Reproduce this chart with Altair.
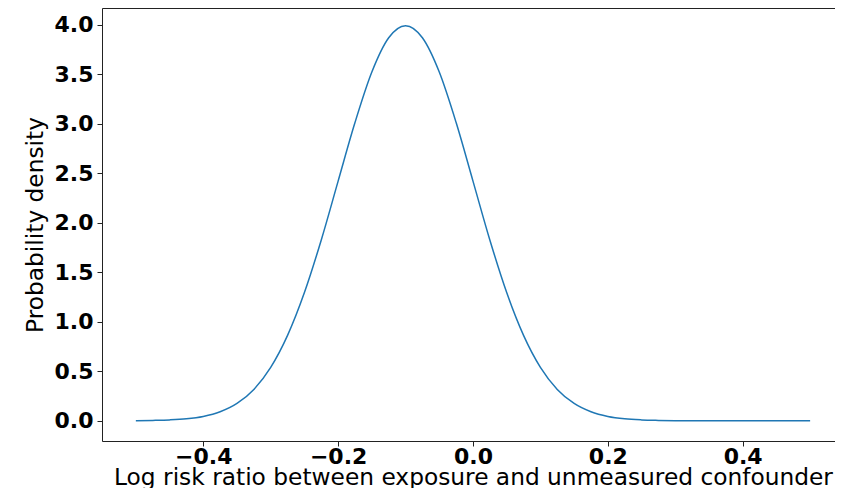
import altair as alt
import pandas as pd

# values
log_rr = [-0.500, -0.475, -0.450, -0.425, -0.400, -0.375, -0.350, -0.325, -0.300,
          -0.275, -0.250, -0.225, -0.200, -0.175, -0.150, -0.125, -0.100, -0.075,
          -0.050, -0.025, 0.000, 0.025, 0.050, 0.075, 0.100, 0.125, 0.150, 0.175,
          0.200, 0.225, 0.250, 0.275, 0.300, 0.325, 0.350, 0.375, 0.400, 0.425,
          0.450, 0.475, 0.500]
density = [0.001, 0.004, 0.009, 0.020, 0.044, 0.091, 0.175, 0.317, 0.540,
           0.863, 1.295, 1.826, 2.420, 3.011, 3.521, 3.867, 3.989, 3.867,
           3.521, 3.011, 2.420, 1.826, 1.295, 0.863, 0.540, 0.317, 0.175, 0.091,
           0.044, 0.020, 0.009, 0.004, 0.001, 0.000, 0.000, 0.000, 0.000, 0.000,
           0.000, 0.000, 0.000]
x_ticks = [-0.4, -0.2, 0.0, 0.2, 0.4]
y_ticks = [0.0, 0.5, 1.0, 1.5, 2.0, 2.5, 3.0, 3.5, 4.0]

df = pd.DataFrame({"x": log_rr, "y": density})

FONT = "DejaVu Sans"
SPINE = "#222"

x_scale = alt.Scale(domain=[-0.5502, 0.5369], nice=False, zero=False)
y_scale = alt.Scale(domain=[-0.204, 4.168], nice=False, zero=False)

line = (
    alt.Chart(df)
    .mark_line(color="#1f77b4", strokeWidth=1.5, interpolate="monotone")
    .encode(
        x=alt.X(
            "x:Q",
            scale=x_scale,
            axis=alt.Axis(
                title="Log risk ratio between exposure and unmeasured confounder",
                values=x_ticks,
                format=".1f",
                grid=False,
                domain=True,
                domainColor=SPINE,
                domainWidth=1,
                tickSize=5,
                tickColor=SPINE,
                labelFont=FONT,
                labelFontSize=22,
                labelFontWeight="bold",
                labelColor="#000",
                labelBaseline="alphabetic",
                labelPadding=17,
                titleFont=FONT,
                titleFontSize=23.3,
                titleFontWeight="normal",
                titleColor="#000",
                titleBaseline="alphabetic",
                titleAlign="center",
                titleX=371,
                titleY=43,
            ),
        ),
        y=alt.Y(
            "y:Q",
            scale=y_scale,
            axis=alt.Axis(
                title="Probability density",
                values=y_ticks,
                format=".1f",
                grid=False,
                domain=True,
                domainColor=SPINE,
                domainWidth=1,
                tickSize=5,
                tickColor=SPINE,
                labelFont=FONT,
                labelFontSize=22,
                labelFontWeight="bold",
                labelColor="#000",
                labelPadding=4,
                titleFont=FONT,
                titleFontSize=23.3,
                titleFontWeight="normal",
                titleColor="#000",
                titleAngle=-90,
                titleBaseline="middle",
                titleAlign="center",
                titleX=-67,
            ),
        ),
    )
)

# invisible copy that only carries the top spine
top_spine = (
    alt.Chart(df)
    .mark_line(strokeOpacity=0)
    .encode(
        x=alt.X(
            "x:Q",
            scale=x_scale,
            axis=alt.Axis(
                orient="top",
                title=None,
                labels=False,
                ticks=False,
                grid=False,
                domain=True,
                domainColor=SPINE,
                domainWidth=1,
            ),
        ),
        y=alt.Y("y:Q", scale=y_scale, axis=None),
    )
)

chart = (
    alt.layer(line, top_spine)
    .resolve_axis(x="independent", y="independent")
    .properties(
        width=733,
        height=433,
        autosize=alt.AutoSizeParams(type="none"),
        padding={"left": 94, "top": 0, "right": 0, "bottom": 47},
    )
    .configure_view(stroke=None)
    .configure(background="white")
)

chart.save("out.html", embed_options={"renderer": "svg", "actions": False})
